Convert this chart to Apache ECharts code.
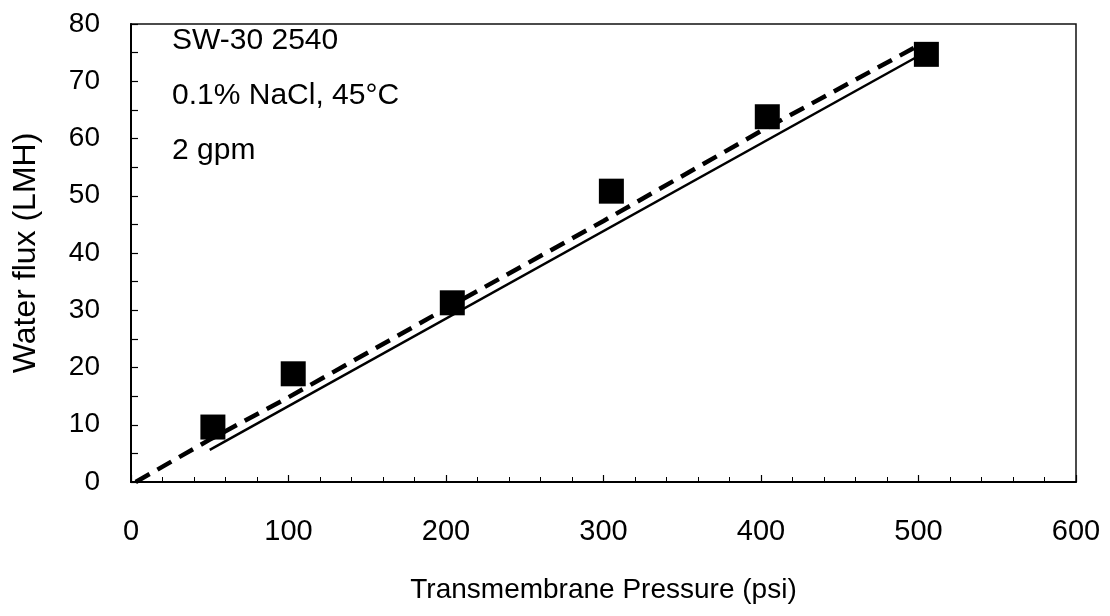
<!DOCTYPE html>
<html>
<head>
<meta charset="utf-8">
<script src="https://cdn.jsdelivr.net/npm/echarts@6/dist/echarts.min.js"></script>
<style>
html,body{margin:0;padding:0;background:#fff;}
#chart{width:1110px;height:616px;}
</style>
</head>
<body>
<div id="chart"></div>
<script>
// Measured data points (pressure psi, water flux LMH)
const pressure = [52, 103, 204, 305, 404, 505];
const flux = [9.6, 18.9, 31.3, 50.8, 63.8, 74.7];
// Solid model line
const solidX = [50, 498];
const solidY = [5.6, 74.1];
// Dashed model line
const dashX = [3, 50, 100, 200, 300, 400, 497];
const dashY = [0, 7.4, 14.8, 30.3, 45.6, 61.3, 75.8];
// Annotation text
const noteLines = ['SW-30 2540', '0.1% NaCl, 45°C', '2 gpm'];
const xTitle = 'Transmembrane Pressure (psi)';
const yTitle = 'Water flux (LMH)';

const zip = (a, b) => a.map((v, i) => [v, b[i]]);
const font = 'Liberation Sans, Arial, sans-serif';

const chart = echarts.init(document.getElementById('chart'));
chart.setOption({
  animation: false,
  backgroundColor: '#fff',
  grid: { left: 131, right: 34, top: 24, bottom: 134, containLabel: false, outerBoundsMode: 'none',
          show: true, borderColor: '#111', borderWidth: 1.5, backgroundColor: 'transparent' },
  xAxis: {
    type: 'value', min: 0, max: 600, interval: 100,
    name: xTitle, nameLocation: 'middle', nameGap: 94, nameMoveOverlap: false,
    nameTextStyle: { fontFamily: font, fontSize: 28, color: '#000' },
    axisLine: { show: true, lineStyle: { color: '#000', width: 2 } },
    axisTick: { show: true, inside: true, length: 7, lineStyle: { color: '#000', width: 1.2 } },
    minorTick: { show: true, splitNumber: 5, length: 5, lineStyle: { color: '#000', width: 1 } },
    axisLabel: { fontFamily: font, fontSize: 29, color: '#000', margin: 35 },
    splitLine: { show: false }
  },
  yAxis: {
    type: 'value', min: 0, max: 80, interval: 10,
    name: yTitle, nameLocation: 'middle', nameGap: 89, nameMoveOverlap: false,
    nameTextStyle: { fontFamily: font, fontSize: 32, color: '#000' },
    axisLine: { show: true, lineStyle: { color: '#000', width: 2 } },
    axisTick: { show: true, inside: true, length: 7, lineStyle: { color: '#000', width: 1.2 } },
    minorTick: { show: true, splitNumber: 2, length: 7, lineStyle: { color: '#000', width: 1.2 } },
    axisLabel: { fontFamily: font, fontSize: 28, color: '#000', margin: 31 },
    splitLine: { show: false }
  },
  graphic: noteLines.map((t, i) => ({
    type: 'text', left: 172, top: 26 + i * 55,
    style: { text: t, fontFamily: font, fontSize: 30, fill: '#000' }
  })),
  series: [
    {
      type: 'line', data: zip(solidX, solidY), symbol: 'none',
      lineStyle: { color: '#000', width: 2.5 }, z: 2
    },
    {
      type: 'line', data: zip(dashX, dashY), symbol: 'none', smooth: false,
      lineStyle: { color: '#000', width: 4.5, type: [16, 9] }, z: 3
    },
    {
      type: 'scatter', data: zip(pressure, flux), symbol: 'rect', symbolSize: 25,
      itemStyle: { color: '#000', opacity: 1 }, z: 4
    }
  ]
});
</script>
</body>
</html>
